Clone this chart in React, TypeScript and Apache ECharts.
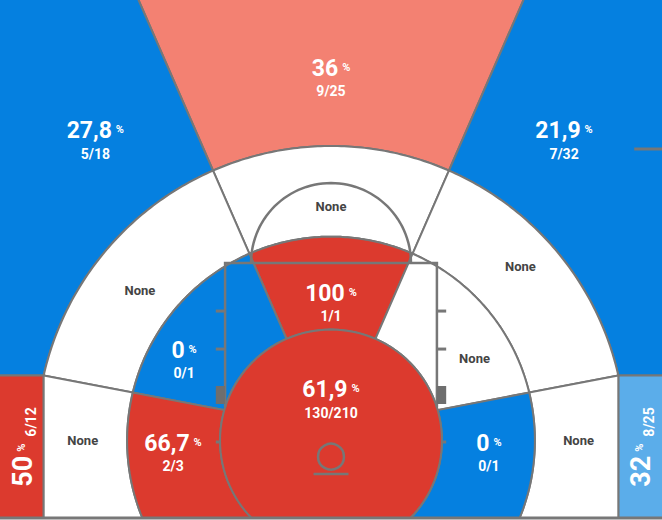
import React, { useEffect, useRef } from 'react';
import * as echarts from 'echarts';

// ---------- data ----------
const zoneNames = [
  'Above the Break 3 – Center',
  'Above the Break 3 – Left',
  'Above the Break 3 – Right',
  'Left Corner 3',
  'Right Corner 3',
  'Mid-Range – Center',
  'Mid-Range – Left Wing',
  'Mid-Range – Right Wing',
  'Mid-Range – Left Baseline',
  'Mid-Range – Right Baseline',
  'Paint – Center',
  'Paint – Left',
  'Paint – Right',
  'Paint – Left Baseline',
  'Paint – Right Baseline',
  'Restricted Area',
];
const made: (number | null)[] = [9, 5, 7, 6, 8, null, null, null, null, null, 1, 0, null, 2, 0, 130];
const attempts: (number | null)[] = [25, 18, 32, 12, 25, null, null, null, null, null, 1, 1, null, 3, 1, 210];
const rating = ['warm', 'cold', 'cold', 'hot', 'cool', 'none', 'none', 'none', 'none', 'none', 'hot', 'cold', 'none', 'hot', 'cold', 'hot'];

// ---------- layout (court feet) ----------
const PX_PER_FT = 13.24;
const HALF_W = 25;
const Y_MAX = 518 / PX_PER_FT;
const CY = 5.85; // zone centre
const R_RA = 8.38;
const R_IN = 15.4;
const R_3 = 22.25;
const CORNER_X = 21.7;
const WING_DEG = 23.6;
const LOW_PIVOT_Y = 6.6;
const KEY_HALF = 8;
const KEY_TOP = 19.26;
const FT_R = 6.04;
const HASH_OUT = 8.7;
const HOOP_Y = 4.63;
const HOOP_R = 0.98;
const BOARD_Y = 3.32;
const BOARD_HALF = 1.32;
const labelAnchors: [number, number][] = [
  [0, 33.3], [-17.8, 28.55], [17.6, 28.55], [-23.3, 5.36], [23.4, 5.36],
  [0, 23.49], [-14.43, 17.15], [14.31, 18.96], [-18.75, 5.82], [18.7, 5.82],
  [0, 16.31], [-11.1, 12.0], [10.84, 12.08], [-11.93, 4.98], [11.93, 4.98], [0, 8.99],
];

const COLORS: Record<string, string> = {
  hot: '#dc3a2e',
  warm: '#f38172',
  cold: '#0580e0',
  cool: '#5badea',
  none: '#ffffff',
};
const LINE = '#777777';
const FONT = 'Roboto';

// ---------- geometry helpers ----------
const rad = (d: number) => (d * Math.PI) / 180;
const pt = (r: number, a: number): [number, number] => [r * Math.cos(a), CY + r * Math.sin(a)];
const arc = (r: number, a0: number, a1: number, n = 72): [number, number][] => {
  const out: [number, number][] = [];
  for (let k = 0; k <= n; k++) out.push(pt(r, a0 + ((a1 - a0) * k) / n));
  return out;
};
const aL = rad(90 + WING_DEG);
const aR = rad(90 - WING_DEG);
const cornerY = CY + Math.sqrt(R_3 * R_3 - CORNER_X * CORNER_X);
const aCornerL = Math.atan2(cornerY - CY, -CORNER_X);
const aCornerR = Math.atan2(cornerY - CY, CORNER_X);
function lowCross(side: number, r: number) {
  const ax = side * CORNER_X;
  const ay = cornerY;
  const dx = -ax;
  const dy = LOW_PIVOT_Y - ay;
  const ox = ax;
  const oy = ay - CY;
  const A = dx * dx + dy * dy;
  const B = 2 * (ox * dx + oy * dy);
  const C = ox * ox + oy * oy - r * r;
  const t = (-B - Math.sqrt(B * B - 4 * A * C)) / (2 * A);
  return Math.atan2(oy + t * dy, ox + t * dx);
}
const lowL_IN = lowCross(-1, R_IN);
const lowL_RA = lowCross(-1, R_RA);
const lowR_IN = lowCross(1, R_IN);
const lowR_RA = lowCross(1, R_RA);
const FAR = 60;

function zonePolygon(i: number): [number, number][] {
  switch (i) {
    case 0: return [pt(FAR, aR), pt(FAR, aL), ...arc(R_3, aL, aR)];
    case 1: return [pt(FAR, aL), [-40, 60], [-40, cornerY], ...arc(R_3, aCornerL, aL)];
    case 2: return [pt(FAR, aR), [40, 60], [40, cornerY], ...arc(R_3, aCornerR, aR)];
    case 3: return [[-40, -5], [-CORNER_X, -5], [-CORNER_X, cornerY], [-40, cornerY]];
    case 4: return [[40, -5], [CORNER_X, -5], [CORNER_X, cornerY], [40, cornerY]];
    case 5: return [...arc(R_3, aR, aL), ...arc(R_IN, aL, aR)];
    case 6: return [...arc(R_3, aL, aCornerL), ...arc(R_IN, lowL_IN, aL)];
    case 7: return [...arc(R_3, aR, aCornerR), ...arc(R_IN, lowR_IN, aR)];
    case 8: return [[-CORNER_X, cornerY], [-CORNER_X, -12], ...arc(R_IN, rad(270), lowL_IN)];
    case 9: return [[CORNER_X, cornerY], [CORNER_X, -12], ...arc(R_IN, rad(-90), lowR_IN)];
    case 10: return [...arc(R_IN, aR, aL), ...arc(R_RA, aL, aR)];
    case 11: return [...arc(R_IN, aL, lowL_IN), ...arc(R_RA, lowL_RA, aL)];
    case 12: return [...arc(R_IN, aR, lowR_IN), ...arc(R_RA, lowR_RA, aR)];
    case 13: return [...arc(R_IN, lowL_IN, rad(270)), ...arc(R_RA, rad(270), lowL_RA)];
    case 14: return [...arc(R_IN, lowR_IN, rad(-90)), ...arc(R_RA, rad(-90), lowR_RA)];
    default: return arc(R_RA, 0, Math.PI * 2, 120);
  }
}

function fmtPct(m: number, a: number) {
  const v = Math.round((m / a) * 1000) / 10;
  return Number.isInteger(v) ? String(v) : v.toFixed(1).replace('.', ',');
}

const whiteRich = {
  v: { fontSize: 23, fontWeight: 'bold', fill: '#fff', lineHeight: 28, fontFamily: FONT },
  p: { fontSize: 11, fontWeight: 'bold', fill: '#fff', lineHeight: 28, padding: [0, 0, 2, 4], fontFamily: FONT },
  f: { fontSize: 14, fontWeight: 'bold', fill: '#fff', lineHeight: 18, fontFamily: FONT },
};
const cornerRich = {
  v: { fontSize: 27, fontWeight: 'bold', fill: '#fff', lineHeight: 30, fontFamily: FONT },
  p: { fontSize: 11, fontWeight: 'bold', fill: '#fff', lineHeight: 30, padding: [0, 0, 2, 4], fontFamily: FONT },
  f: { fontSize: 14, fontWeight: 'bold', fill: '#fff', lineHeight: 24, verticalAlign: 'bottom', padding: [0, 0, 0, 7], fontFamily: FONT },
};

function renderZone(params: any, api: any) {
  const i = params.dataIndex;
  const pts = zonePolygon(i).map((p) => api.coord(p));
  const children: any[] = [
    {
      type: 'polygon',
      shape: { points: pts },
      style: { fill: COLORS[rating[i]], stroke: LINE, lineWidth: 2 },
    },
  ];
  const [lx, ly] = api.coord(labelAnchors[i]);
  const m = made[i];
  const a = attempts[i];
  if (m == null || a == null) {
    children.push({
      type: 'text',
      x: lx,
      y: ly,
      style: { text: 'None', fontSize: 13, fontWeight: 'bold', fontFamily: FONT, fill: '#444', align: 'center', verticalAlign: 'middle' },
    });
  } else if (i === 3 || i === 4) {
    children.push({
      type: 'text',
      x: lx,
      y: ly,
      rotation: Math.PI / 2,
      style: {
        text: `{v|${fmtPct(m, a)}}{p|%}{f|${m}/${a}}`,
        rich: cornerRich,
        align: 'center',
        verticalAlign: 'middle',
        fontFamily: FONT,
      },
    });
  } else {
    children.push({
      type: 'text',
      x: lx,
      y: ly,
      style: {
        text: `{v|${fmtPct(m, a)}}{p|%}\n{f|${m}/${a}}`,
        rich: whiteRich,
        align: 'center',
        verticalAlign: 'middle',
        fontFamily: FONT,
      },
    });
  }
  return { type: 'group', children };
}

function renderCourt(_params: any, api: any) {
  const c = (p: [number, number]) => api.coord(p);
  const line = (pts: [number, number][], w = 2.5) => ({
    type: 'polyline',
    shape: { points: pts.map(c) },
    style: { stroke: LINE, lineWidth: w, fill: null },
  });
  const keyBottom = CY + Math.sqrt(R_RA * R_RA - KEY_HALF * KEY_HALF);
  const children: any[] = [
    line([[-KEY_HALF, keyBottom], [-KEY_HALF, KEY_TOP], [KEY_HALF, KEY_TOP], [KEY_HALF, keyBottom]]),
    line(Array.from({ length: 61 }, (_, k) => {
      const a = (Math.PI * k) / 60;
      return [FT_R * Math.cos(a), KEY_TOP + FT_R * Math.sin(a)] as [number, number];
    })),
  ];
  for (const s of [-1, 1]) {
    for (const y of [15.63, 12.76]) children.push(line([[s * KEY_HALF, y], [s * HASH_OUT, y]], 3));
    const b0 = c([s * KEY_HALF, 9.97]);
    const b1 = c([s * HASH_OUT, 8.61]);
    children.push({
      type: 'rect',
      shape: { x: Math.min(b0[0], b1[0]), y: b0[1], width: Math.abs(b1[0] - b0[0]), height: b1[1] - b0[1] },
      style: { fill: '#6e6e6e' },
    });
    children.push(line([[s * R_RA, 5.74], [s * HASH_OUT, 5.74]], 3));
  }
  const hc = c([0, HOOP_Y]);
  const hr = api.size([HOOP_R, HOOP_R])[0];
  children.push({ type: 'circle', shape: { cx: hc[0], cy: hc[1], r: hr }, style: { stroke: LINE, lineWidth: 2.5, fill: null } });
  children.push(line([[-BOARD_HALF, BOARD_Y], [BOARD_HALF, BOARD_Y]], 2.5));
  children.push(line([[-HALF_W, 0], [HALF_W, 0]], 3));
  children.push(line([[22.9, 27.87], [HALF_W, 27.87]], 3));
  return { type: 'group', children };
}

const option: any = {
  animation: false,
  backgroundColor: '#ffffff',
  grid: { left: 0, right: 0, top: 0, bottom: 2 },
  xAxis: { type: 'value', min: -HALF_W, max: HALF_W, show: false },
  yAxis: { type: 'value', min: 0, max: Y_MAX, show: false },
  series: [
    {
      type: 'custom',
      name: 'zones',
      clip: true,
      renderItem: renderZone,
      data: zoneNames.map((name, i) => ({ name, value: [i, 0] })),
    },
    {
      type: 'custom',
      name: 'court',
      clip: false,
      renderItem: renderCourt,
      data: [[0, 0]],
    },
  ],
};

export default function App() {
  const ref = useRef<HTMLDivElement>(null);
  useEffect(() => {
    document.body.style.margin = '0';
    const chart = echarts.init(ref.current as HTMLDivElement, null, { renderer: 'svg' });
    chart.setOption(option);
    return () => chart.dispose();
  }, []);
  return <div ref={ref} style={{ width: 662, height: 520 }} />;
}
